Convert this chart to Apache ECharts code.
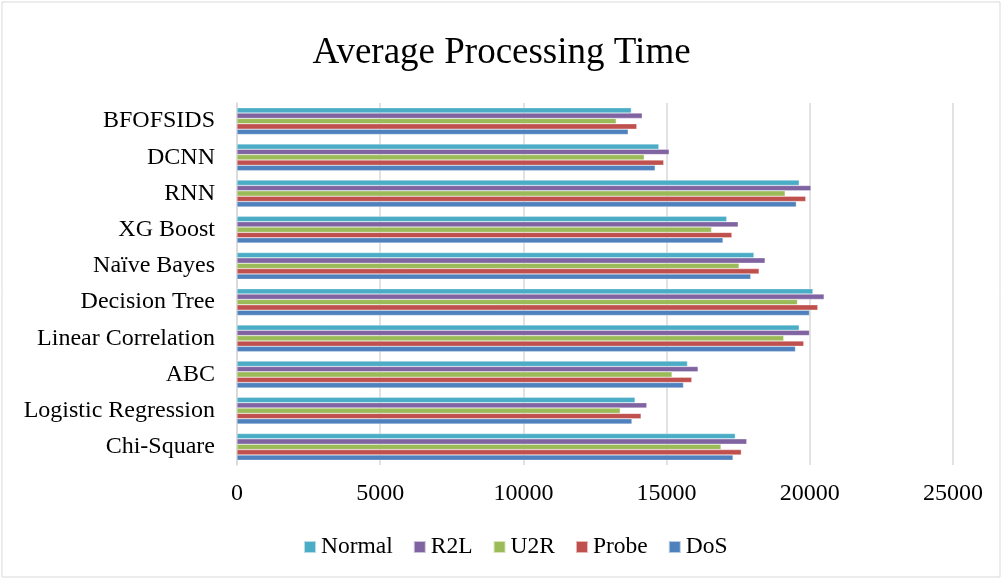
<!DOCTYPE html>
<html>
<head>
<meta charset="utf-8">
<script src="https://cdn.jsdelivr.net/npm/echarts@6/dist/echarts.min.js"></script>
<style>
  html, body { margin: 0; padding: 0; background: #fff; }
  #chart { width: 1003px; height: 580px; }
</style>
</head>
<body>
<div id="chart"></div>
<script>
// categories bottom -> top (category axis starts at the bottom)
const methods = ['Chi-Square', 'Logistic Regression', 'ABC', 'Linear Correlation', 'Decision Tree',
  'Naïve Bayes', 'XG Boost', 'RNN', 'DCNN', 'BFOFSIDS']

const dos    = [17320, 13790, 15590, 19500, 19990, 17940, 16970, 19530, 14600, 13660]
const probe  = [17610, 14110, 15880, 19790, 20280, 18230, 17280, 19860, 14900, 13960]
const u2r    = [16900, 13380, 15190, 19090, 19570, 17530, 16570, 19140, 14220, 13240]
const r2l    = [17800, 14310, 16100, 19990, 20500, 18440, 17500, 20040, 15090, 14150]
const normal = [17400, 13900, 15730, 19630, 20110, 18050, 17100, 19630, 14730, 13770]

const xTicks = [0, 5000, 10000, 15000, 20000, 25000]
const legendOrder = ['Normal', 'R2L', 'U2R', 'Probe', 'DoS']

const font = 'Liberation Serif, Times New Roman, serif'

function bar(name, data, color) {
  return {
    name,
    type: 'bar',
    data,
    barGap: '0%',
    barCategoryGap: '26%',
    itemStyle: { color, borderColor: 'rgba(255,255,255,0.6)', borderWidth: 0.5 }
  }
}

const chart = echarts.init(document.getElementById('chart'))
chart.setOption({
  animation: false,
  title: {
    text: 'Average Processing Time',
    left: 'center',
    top: 30,
    textStyle: { fontFamily: font, fontSize: 37, fontWeight: 'normal', color: '#000' }
  },
  graphic: [{
    type: 'rect',
    shape: { x: 2, y: 2, width: 998, height: 575 },
    style: { fill: 'none', stroke: '#d9d9d9', lineWidth: 1 },
    silent: true
  }],
  legend: {
    data: legendOrder,
    left: 298,
    top: 530,
    icon: 'rect',
    itemWidth: 12,
    itemHeight: 12,
    itemGap: 20,
    textStyle: { fontFamily: font, fontSize: 23.5, color: '#000' }
  },
  grid: { left: 237, right: 50, top: 103, bottom: 115 },
  xAxis: {
    type: 'value',
    min: xTicks[0],
    max: xTicks[xTicks.length - 1],
    interval: xTicks[1] - xTicks[0],
    axisLine: { show: false },
    axisTick: { show: false },
    axisLabel: { fontFamily: font, fontSize: 24, color: '#000', margin: 17, formatter: v => String(v) },
    splitLine: { lineStyle: { color: '#d9d9d9', width: 1.5 } }
  },
  yAxis: {
    type: 'category',
    data: methods,
    axisLine: { lineStyle: { color: '#d9d9d9', width: 1.5 } },
    axisTick: { show: false },
    axisLabel: { fontFamily: font, fontSize: 24, color: '#000', margin: 22 }
  },
  // ECharts puts the first series at the top of each group, so Normal goes first
  series: [
    bar('Normal', normal, '#4bacc6'),
    bar('R2L', r2l, '#8064a2'),
    bar('U2R', u2r, '#9bbb59'),
    bar('Probe', probe, '#c0504d'),
    bar('DoS', dos, '#4f81bd')
  ]
})
</script>
</body>
</html>
